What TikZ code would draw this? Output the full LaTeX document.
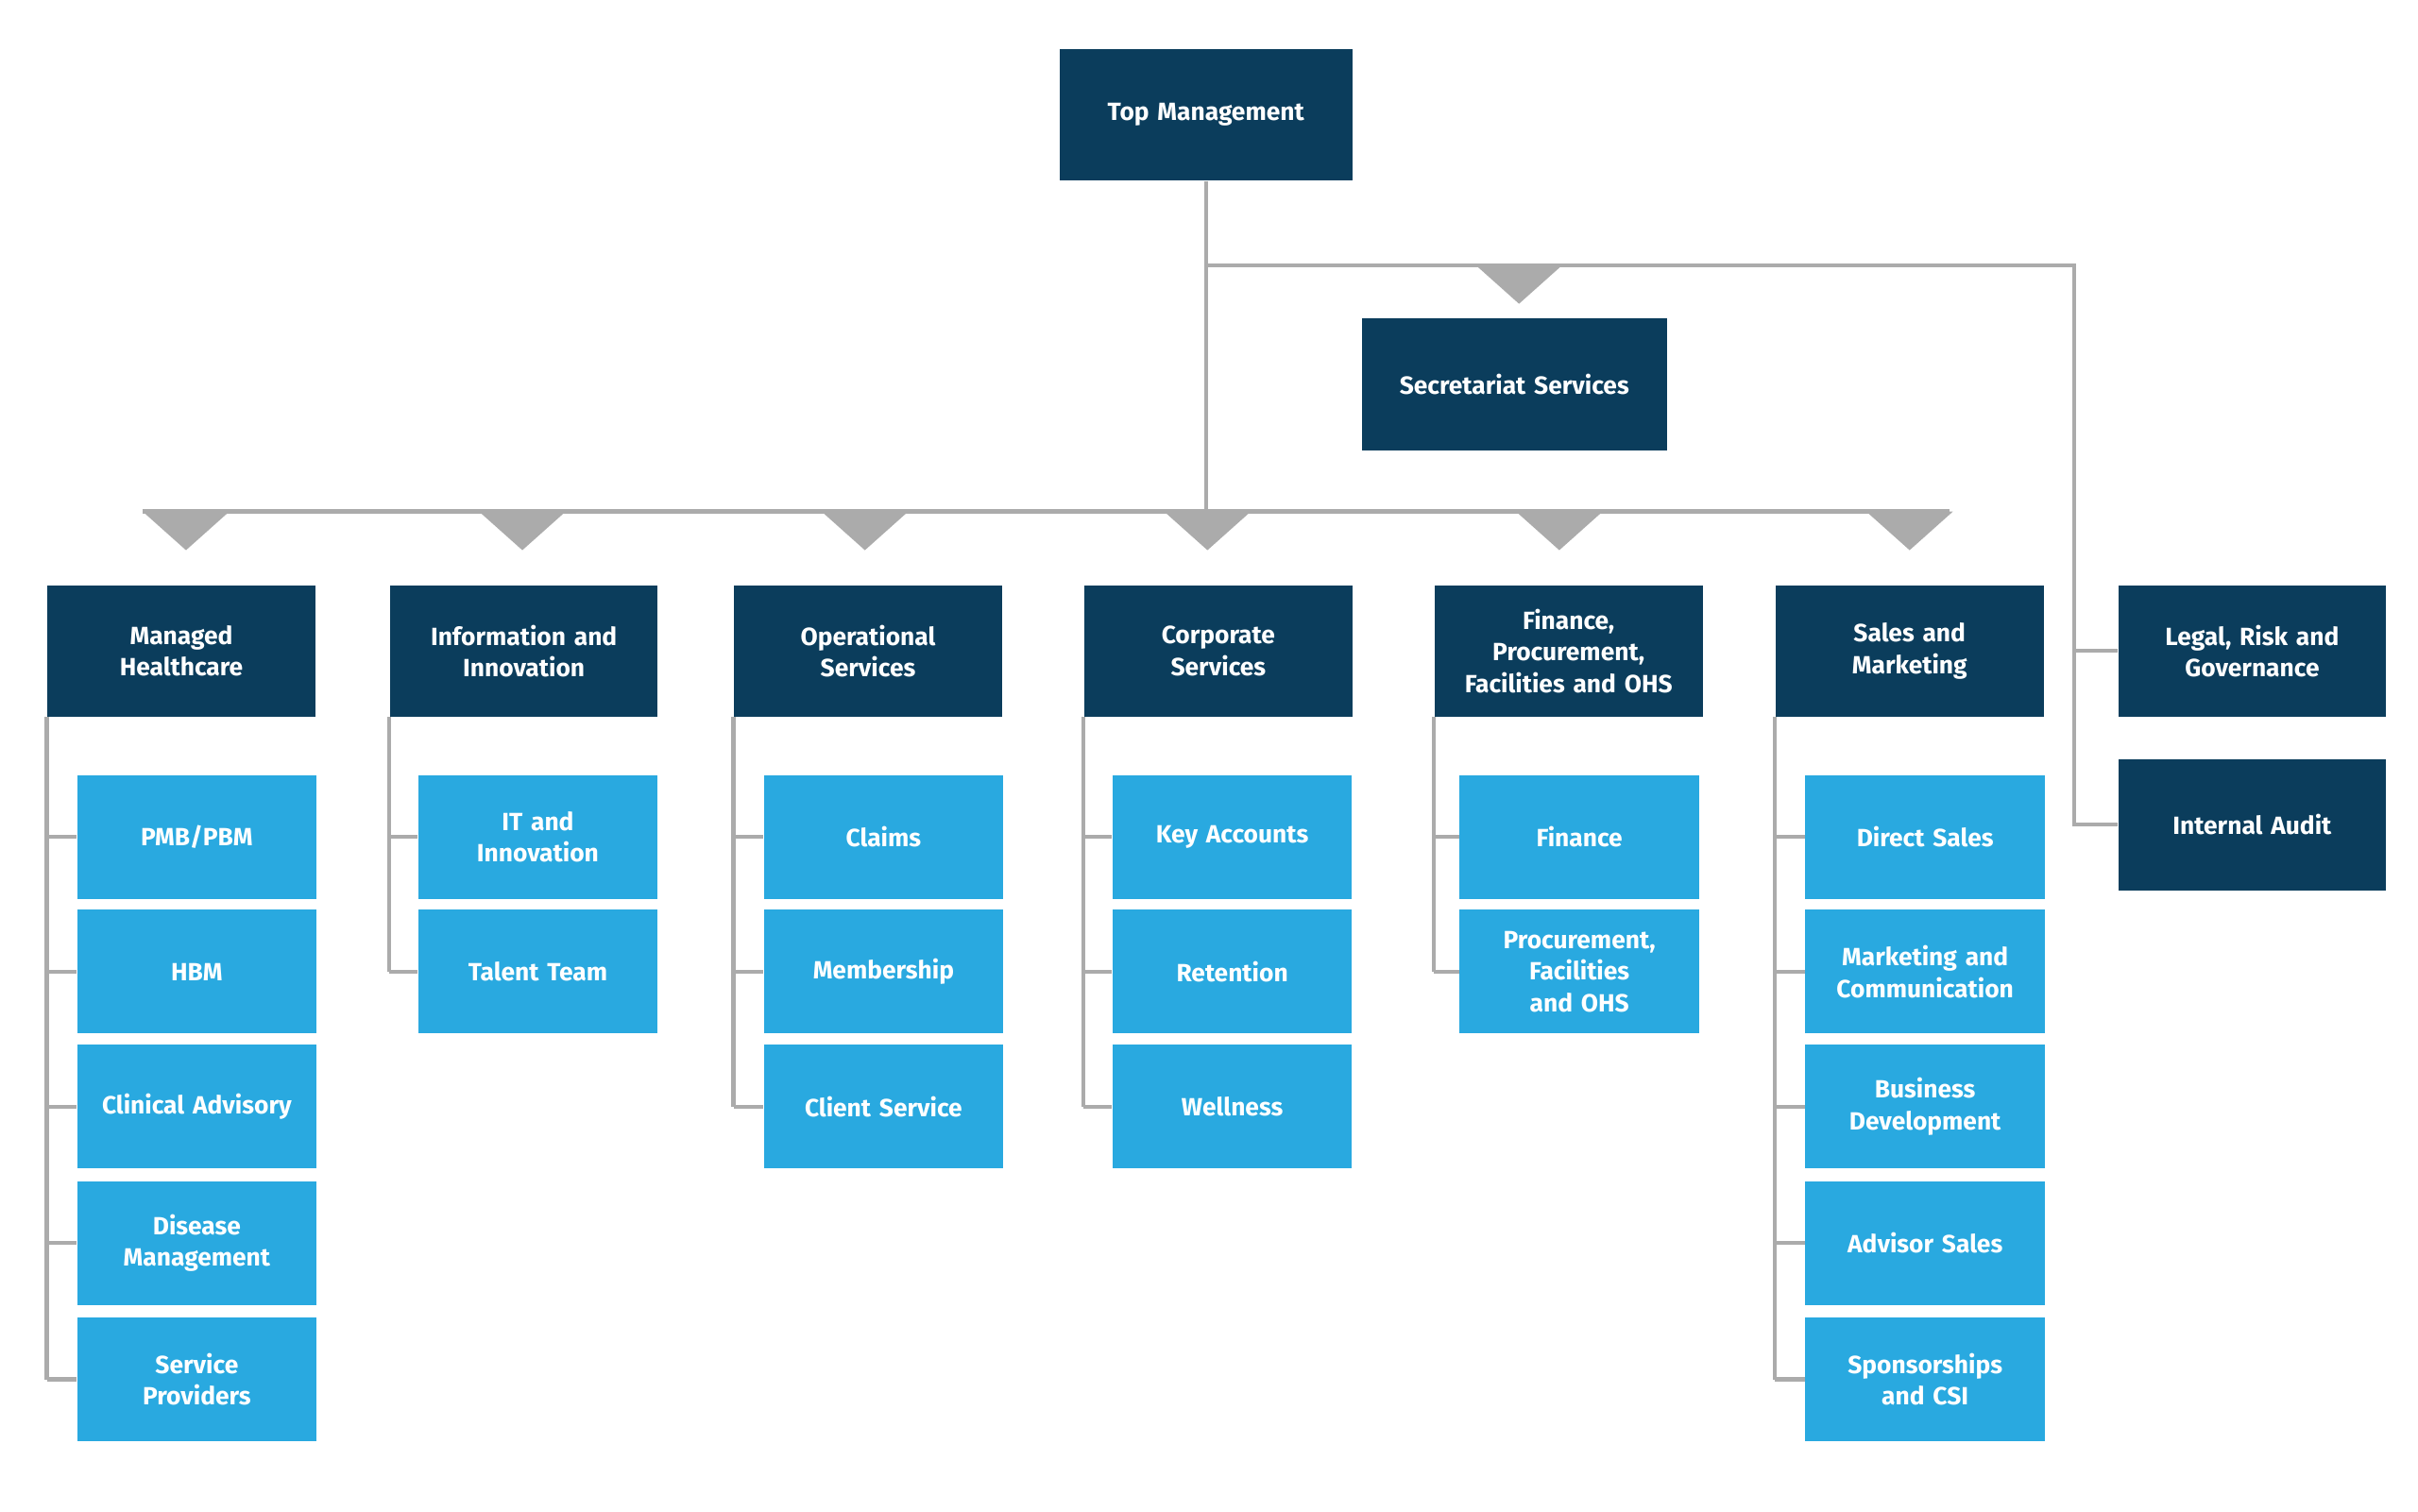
\documentclass[tikz,border=0pt]{standalone}
\usepackage{fontspec}
\setmainfont{Fira Sans}
\usetikzlibrary{positioning}
\definecolor{navy}{HTML}{0B3D5C}
\definecolor{sky}{HTML}{29A9E0}
\definecolor{wire}{HTML}{ABABAB}
\tikzset{
  head/.style={rectangle, fill=navy, text=white, minimum width=2.77cm, minimum height=1.39cm, text width=2.6cm, align=center, font=\fontsize{7.5}{9.5}\selectfont\bfseries},
  unit/.style={rectangle, fill=sky, text=white, minimum width=2.43cm, minimum height=1.31cm, text width=2.3cm, align=center, font=\fontsize{7.5}{9.5}\selectfont\bfseries},
  link/.style={draw=wire, line width=1.2pt},
  pointer/.style={fill=wire, draw=none}
}
\begin{document}
\begin{tikzpicture}[x=0.01641cm, y=-0.01641cm]
    \useasboundingbox (0,0) rectangle (1560,975);
    %Top level
    \node (top) [head, minimum width=3.1cm] at (778,74) {Top Management};
    \node (sec) [head, minimum width=3.1cm, text width=3cm] at (977,248) {Secretariat Services};
    \node (legal) [head] at (1453,420) {Legal, Risk and\\Governance};
    \node (audit) [head] at (1453,532) {Internal Audit};
    \coordinate (bus) at (778,330);
    \coordinate (side) at (1338,171);

    %Divisions
    \node (mh) [head] at (117,420) {Managed\\Healthcare};
    \node (ii) [head] at (338,420) {Information and\\Innovation};
    \node (os) [head] at (560,420) {Operational\\Services};
    \node (cs) [head] at (786,420) {Corporate\\Services};
    \node (fp) [head] at (1012,420) {Finance,\\Procurement,\\Facilities and OHS};
    \node (sm) [head] at (1232,420) {Sales and\\Marketing};

    %Units
    \node (mh1) [unit] at (127,540) {PMB/PBM};
    \node (mh2) [unit] at (127,627) {HBM};
    \node (mh3) [unit] at (127,714) {Clinical Advisory};
    \node (mh4) [unit] at (127,802) {Disease\\Management};
    \node (mh5) [unit] at (127,890) {Service\\Providers};
    \node (ii1) [unit] at (347,540) {IT and\\Innovation};
    \node (ii2) [unit] at (347,627) {Talent Team};
    \node (os1) [unit] at (570,540) {Claims};
    \node (os2) [unit] at (570,627) {Membership};
    \node (os3) [unit] at (570,714) {Client Service};
    \node (cs1) [unit] at (795,540) {Key Accounts};
    \node (cs2) [unit] at (795,627) {Retention};
    \node (cs3) [unit] at (795,714) {Wellness};
    \node (fp1) [unit] at (1019,540) {Finance};
    \node (fp2) [unit] at (1019,627) {Procurement,\\Facilities\\and OHS};
    \node (sm1) [unit] at (1242,540) {Direct Sales};
    \node (sm2) [unit] at (1242,627) {Marketing and\\Communication};
    \node (sm3) [unit] at (1242,714) {Business\\Development};
    \node (sm4) [unit] at (1242,802) {Advisor Sales};
    \node (sm5) [unit] at (1242,890) {Sponsorships\\and CSI};

    %Wires
    \draw [link] (top) -- (bus);
    \draw [link] (top |- side) -- (side) -- (side |- audit) -- (audit.west);
    \draw [link] (side |- legal) -- (legal.west);
    \draw [link] (92,330) -- (1258,330);
    \fill [pointer] (952,171) -- (1008,171) -- (980,196) -- cycle;
    \foreach \x in {120,337,558,779,1006,1232}
        \fill [pointer] (\x-28,330) -- (\x+28,330) -- (\x,355) -- cycle;
    \foreach \d/\n in {mh/5, ii/2, os/3, cs/3, fp/2, sm/5} {
        \draw [link] (\d.south west) -- (\d.south west |- \d\n.west);
        \foreach \k in {1,...,\n}
            \draw [link] (\d.south west |- \d\k.west) -- (\d\k.west);
    }
\end{tikzpicture}
\end{document}
